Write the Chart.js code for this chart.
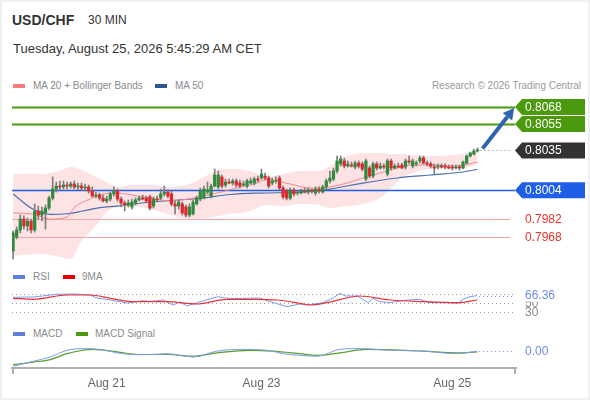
<!DOCTYPE html>
<html>
<head>
<meta charset="utf-8">
<script src="https://cdn.jsdelivr.net/npm/chart.js@4.4.1/dist/chart.umd.min.js"></script>
<style>
  body { margin: 0; background: #fff; font-family: "Liberation Sans", Arial, sans-serif; }
  #wrap { position: relative; width: 590px; height: 400px; overflow: hidden; box-shadow: inset 0 0 0 2px #eef1f4; }
  .t { position: absolute; white-space: nowrap; line-height: 1; color: #333; }
  .lg { font-size: 10px; color: #8a8a8a; }
  .sw { position: absolute; width: 12px; height: 4px; }
  canvas { position: absolute; left: 0; }
</style>
</head>
<body>
<div id="wrap">
  <div class="t" style="left:12px;top:13px;font-size:14px;font-weight:bold">USD/CHF</div>
  <div class="t" style="left:88px;top:14px;font-size:12px">30 MIN</div>
  <div class="t" style="left:13px;top:42px;font-size:13px">Tuesday, August 25, 2026 5:45:29 AM CET</div>

  <div class="sw" style="left:13px;top:84px;background:#f77b7b"></div>
  <div class="t lg" style="left:33px;top:81px">MA 20 + Bollinger Bands</div>
  <div class="sw" style="left:155px;top:84px;background:#2f5597"></div>
  <div class="t lg" style="left:175px;top:81px">MA 50</div>
  <div class="t lg" style="right:9px;top:81px;color:#9a9a9a">Research © 2026 Trading Central</div>

  <div class="sw" style="left:13px;top:275px;background:#5b7fdb"></div>
  <div class="t lg" style="left:33px;top:272px">RSI</div>
  <div class="sw" style="left:63px;top:275px;background:#e60000"></div>
  <div class="t lg" style="left:82px;top:272px">9MA</div>

  <div class="sw" style="left:13px;top:332px;background:#5b7fdb"></div>
  <div class="t lg" style="left:33px;top:329px">MACD</div>
  <div class="sw" style="left:76px;top:332px;background:#4b9a0e"></div>
  <div class="t lg" style="left:95px;top:329px">MACD Signal</div>

  <canvas id="main" width="590" height="180" style="top:91px"></canvas>
  <canvas id="rsi" width="590" height="46" style="top:280px"></canvas>
  <canvas id="macd" width="590" height="62" style="top:335px"></canvas>
</div>
<script>
// 30 min candles, index 0 = first bar on the left
const opens = [
  0.79572, 0.79680, 0.79734, 0.79818, 0.79765, 0.79803, 0.79734, 0.79880, 0.79849, 0.79865,
  0.79903, 0.79980, 0.80049, 0.80072, 0.80065, 0.80080, 0.80072, 0.80088, 0.80065, 0.80072,
  0.80057, 0.80065, 0.80034, 0.79995, 0.80003, 0.79980, 0.79957, 0.79972, 0.80011, 0.80034,
  0.79972, 0.79942, 0.79926, 0.79911, 0.79942, 0.79965, 0.79980, 0.79980, 0.79988, 0.79918,
  0.79972, 0.79980, 0.80011, 0.80026, 0.80011, 0.79934, 0.79918, 0.79934, 0.79911, 0.79849,
  0.79857, 0.79934, 0.79972, 0.79980, 0.80026, 0.79995, 0.80072, 0.80065, 0.80142, 0.80080,
  0.80103, 0.80095, 0.80111, 0.80095, 0.80080, 0.80072, 0.80095, 0.80095, 0.80126, 0.80134,
  0.80149, 0.80134, 0.80095, 0.80111, 0.80134, 0.80057, 0.80034, 0.79980, 0.80042, 0.80018,
  0.80018, 0.80034, 0.80026, 0.80042, 0.80018, 0.80049, 0.80026, 0.80065, 0.80111, 0.80126,
  0.80188, 0.80242, 0.80265, 0.80226, 0.80234, 0.80218, 0.80249, 0.80242, 0.80126, 0.80211,
  0.80149, 0.80242, 0.80211, 0.80226, 0.80165, 0.80265, 0.80211, 0.80226, 0.80234, 0.80218,
  0.80265, 0.80226, 0.80242, 0.80265, 0.80288, 0.80249, 0.80242, 0.80218, 0.80218, 0.80226,
  0.80226, 0.80218, 0.80218, 0.80211, 0.80218, 0.80211, 0.80249, 0.80303, 0.80318, 0.80342
];
const highs = [
  0.79726, 0.79757, 0.79849, 0.79842, 0.79826, 0.79818, 0.79934, 0.79918, 0.79911, 0.79926,
  0.79995, 0.80142, 0.80103, 0.80111, 0.80111, 0.80103, 0.80103, 0.80111, 0.80095, 0.80095,
  0.80088, 0.80080, 0.80065, 0.80026, 0.80018, 0.80003, 0.79995, 0.80026, 0.80065, 0.80049,
  0.79988, 0.79957, 0.79965, 0.79972, 0.79980, 0.79995, 0.80003, 0.79995, 0.80003, 0.79988,
  0.79995, 0.80049, 0.80072, 0.80042, 0.80034, 0.79957, 0.79965, 0.79949, 0.79926, 0.79934,
  0.79965, 0.79995, 0.80057, 0.80072, 0.80103, 0.80088, 0.80203, 0.80188, 0.80157, 0.80126,
  0.80126, 0.80126, 0.80126, 0.80118, 0.80111, 0.80126, 0.80134, 0.80142, 0.80149, 0.80203,
  0.80172, 0.80149, 0.80134, 0.80142, 0.80149, 0.80072, 0.80049, 0.80057, 0.80057, 0.80034,
  0.80049, 0.80057, 0.80057, 0.80049, 0.80065, 0.80065, 0.80080, 0.80126, 0.80188, 0.80211,
  0.80303, 0.80303, 0.80288, 0.80265, 0.80257, 0.80265, 0.80265, 0.80257, 0.80280, 0.80226,
  0.80257, 0.80257, 0.80249, 0.80242, 0.80280, 0.80280, 0.80242, 0.80249, 0.80249, 0.80280,
  0.80303, 0.80280, 0.80265, 0.80303, 0.80303, 0.80265, 0.80257, 0.80242, 0.80242, 0.80242,
  0.80242, 0.80234, 0.80234, 0.80234, 0.80234, 0.80265, 0.80311, 0.80334, 0.80357, 0.80365
];
const lows = [
  0.79511, 0.79665, 0.79711, 0.79741, 0.79726, 0.79711, 0.79718, 0.79818, 0.79803, 0.79741,
  0.79888, 0.79965, 0.80026, 0.80042, 0.80049, 0.80049, 0.80057, 0.80049, 0.80042, 0.80042,
  0.80034, 0.80018, 0.79988, 0.79980, 0.79965, 0.79949, 0.79942, 0.79957, 0.79995, 0.79957,
  0.79911, 0.79880, 0.79911, 0.79895, 0.79926, 0.79957, 0.79965, 0.79949, 0.79888, 0.79903,
  0.79949, 0.79965, 0.79995, 0.79980, 0.79918, 0.79857, 0.79895, 0.79849, 0.79834, 0.79834,
  0.79849, 0.79926, 0.79957, 0.79972, 0.80011, 0.79980, 0.80065, 0.80049, 0.80057, 0.80065,
  0.80088, 0.80080, 0.80065, 0.80057, 0.80072, 0.80057, 0.80088, 0.80080, 0.80103, 0.80126,
  0.80118, 0.80057, 0.80080, 0.80095, 0.80042, 0.79972, 0.79965, 0.79965, 0.79995, 0.80003,
  0.80011, 0.80018, 0.80011, 0.80018, 0.80003, 0.80018, 0.80018, 0.80049, 0.80095, 0.80111,
  0.80172, 0.80226, 0.80211, 0.80218, 0.80218, 0.80203, 0.80211, 0.80188, 0.80111, 0.80134,
  0.80134, 0.80195, 0.80203, 0.80203, 0.80149, 0.80195, 0.80203, 0.80211, 0.80203, 0.80203,
  0.80242, 0.80211, 0.80226, 0.80249, 0.80242, 0.80226, 0.80211, 0.80165, 0.80203, 0.80211,
  0.80203, 0.80203, 0.80195, 0.80203, 0.80195, 0.80203, 0.80242, 0.80295, 0.80311, 0.80334
];
const closes = [
  0.79711, 0.79734, 0.79818, 0.79765, 0.79803, 0.79734, 0.79880, 0.79849, 0.79880, 0.79903,
  0.79980, 0.80049, 0.80072, 0.80065, 0.80080, 0.80072, 0.80088, 0.80065, 0.80072, 0.80057,
  0.80065, 0.80034, 0.79995, 0.80003, 0.79980, 0.79957, 0.79972, 0.80011, 0.80034, 0.79972,
  0.79942, 0.79926, 0.79942, 0.79949, 0.79965, 0.79980, 0.79972, 0.79957, 0.79903, 0.79972,
  0.79965, 0.80011, 0.80026, 0.79995, 0.79934, 0.79918, 0.79949, 0.79865, 0.79849, 0.79911,
  0.79949, 0.79980, 0.80034, 0.80049, 0.80042, 0.80072, 0.80157, 0.80157, 0.80072, 0.80103,
  0.80095, 0.80111, 0.80080, 0.80072, 0.80088, 0.80111, 0.80111, 0.80126, 0.80118, 0.80165,
  0.80134, 0.80072, 0.80111, 0.80118, 0.80057, 0.79988, 0.79980, 0.80042, 0.80011, 0.80026,
  0.80034, 0.80026, 0.80042, 0.80034, 0.80049, 0.80034, 0.80065, 0.80111, 0.80134, 0.80188,
  0.80265, 0.80280, 0.80226, 0.80242, 0.80226, 0.80249, 0.80226, 0.80203, 0.80265, 0.80149,
  0.80242, 0.80211, 0.80226, 0.80218, 0.80265, 0.80211, 0.80226, 0.80218, 0.80211, 0.80265,
  0.80257, 0.80265, 0.80249, 0.80288, 0.80249, 0.80242, 0.80226, 0.80211, 0.80226, 0.80218,
  0.80218, 0.80211, 0.80211, 0.80218, 0.80211, 0.80257, 0.80303, 0.80326, 0.80342, 0.80349
];

// indicator lines, sampled at bar index positions
const ma20Idx = [0, 5.6, 10.3, 15, 17.2, 20.8, 25, 28.9, 34.7, 38, 43.6, 52.8, 62.2, 67.8, 70.6, 73.3, 76.9, 82.5, 88, 92.8, 97.2, 101.9, 106.7, 111.1, 115.8, 123.3, 129];
const ma20 = [0.79865, 0.79855, 0.79818, 0.79834, 0.79911, 0.79965, 0.80011, 0.80018, 0.79995, 0.79982, 0.79957, 0.79995, 0.80057, 0.80095, 0.80126, 0.80111, 0.80088, 0.80057, 0.80065, 0.80095, 0.80134, 0.80172, 0.80211, 0.80234, 0.80234, 0.80226, 0.80257];
const ma50Idx = [0, 5.6, 10.3, 15, 19.4, 24.2, 28.9, 33, 42, 51.5, 60.3, 68.6, 80.6, 88, 97.2, 106.7, 115.8, 125, 129];
const ma50 = [0.80011, 0.79893, 0.79854, 0.79859, 0.79880, 0.79906, 0.79918, 0.79934, 0.79957, 0.79976, 0.80007, 0.80018, 0.80026, 0.80049, 0.80095, 0.80134, 0.80157, 0.80180, 0.80201];
const bandIdx = [0, 8, 13, 16, 19, 23, 26, 29, 33, 38, 43, 49, 53, 57, 60, 66, 70, 75, 80, 85, 88, 93, 97, 102, 105, 108, 111, 116, 125, 129];
const bandUpper = [0.80165, 0.80165, 0.80188, 0.80218, 0.80195, 0.80142, 0.80103, 0.80065, 0.80080, 0.80080, 0.80065, 0.80088, 0.80142, 0.80195, 0.80203, 0.80188, 0.80142, 0.80165, 0.80188, 0.80188, 0.80226, 0.80303, 0.80326, 0.80326, 0.80318, 0.80318, 0.80311, 0.80303, 0.80318, 0.80342];
const bandLower = [0.79534, 0.79549, 0.79526, 0.79511, 0.79649, 0.79765, 0.79872, 0.79911, 0.79918, 0.79895, 0.79857, 0.79818, 0.79826, 0.79842, 0.79857, 0.79880, 0.79926, 0.79918, 0.79934, 0.79926, 0.79903, 0.79918, 0.79934, 0.79980, 0.80057, 0.80134, 0.80172, 0.80203, 0.80211, 0.80242];

const rsiIdx = [0, 5.6, 12.2, 17.2, 21.4, 23.3, 27, 31.7, 36.1, 38, 41.7, 44.4, 46.4, 48.3, 52, 56.9, 58.9, 61.1, 68.6, 70.6, 76.1, 79.7, 81.7, 86.1, 88.9, 90.8, 92.2, 95.6, 98.6, 100, 101.9, 104.7, 109.4, 113, 115.8, 120.6, 123.6, 125, 126.9, 128.9];
const rsi = [62.7, 63.3, 69.3, 70, 67.8, 61.1, 56.7, 50, 55.1, 53.3, 56.7, 45.6, 52.2, 43.3, 52.9, 64, 61.1, 60, 61.1, 55.1, 41.8, 47.8, 45.6, 50.7, 61.1, 71.6, 65.6, 65.6, 50.7, 60.4, 52.9, 50.7, 56.7, 58.2, 50.7, 50.7, 49.3, 58.2, 64, 66.36];
const rsiMaIdx = [0, 5.6, 15, 21.4, 27, 33.3, 42.8, 51.1, 59.4, 66.7, 73.3, 79.7, 82.5, 87.2, 96.4, 104.7, 113.9, 123.3, 128.9];
const rsiMa = [60.4, 58.2, 67.8, 67.8, 60.4, 52.9, 52.9, 47.8, 58.2, 58.2, 56.7, 49.3, 45.6, 50.7, 65.6, 56.7, 52.9, 50.7, 56.7];
const rsiGuides = [70, 50, 30];

const macdIdx = [0, 5.6, 10.3, 15, 19.4, 24.2, 28.9, 33.3, 38, 42.8, 50, 56.7, 63, 70.6, 75, 79.7, 84.4, 90.8, 96.4, 104.7, 113.9, 123.3, 128.9];
const macd = [-0.00018, -0.00012, -0.00007, 0.00001, 0.00003, 0.00002, -0.00002, -0.00004, -0.00004, -0.00003, -0.00007, 0, 0.00002, 0.00001, -0.00003, -0.00005, -0.00006, 0.00002, 0.00003, 0.00001, 0, -0.00003, 0];
const signalIdx = [0, 5.6, 10.3, 15, 22.2, 28.9, 35.3, 42.8, 50, 56.7, 65.8, 72.2, 79.7, 84.4, 90.8, 98.3, 113.9, 123.3, 128.9];
const signal = [-0.00016, -0.00013, -0.0001, -0.00003, 0.00002, -0.00001, -0.00004, -0.00004, -0.00006, -0.00002, 0.00001, 0, -0.00003, -0.00005, -0.00002, 0.00002, 0, -0.00002, -0.00001];

// key levels
const levelValues = [0.8068, 0.8055, 0.8004, 0.7982, 0.7968];
const levelKinds = ['resistance', 'resistance', 'pivot', 'support', 'support'];
const arrowFrom = [130.4, 0.8036];
const arrowTo = [139.2, 0.80672];

const tickIdx = [26, 69, 122];
const tickLabels = ['Aug 21', 'Aug 23', 'Aug 25'];

const xMin = -0.3, xMax = 139.7;
const FONT = '"Liberation Sans", Arial, sans-serif';
Chart.defaults.font.family = FONT;

const levelStyle = {
  resistance: { line: '#4b9a0e', width: 2, tag: '#4b9a0e', end: 515 },
  pivot: { line: '#1f5fe6', width: 1.5, tag: '#1f5fe6', end: 515 },
  support: { line: '#f5a5a5', width: 1.2, text: '#e8332d', end: 510 }
};

const pts = (xs, ys) => xs.map((v, i) => ({ x: v, y: ys[i] }));
const upCol = '#2e8b3e', downCol = '#e2262c';

function tag(ctx, py, tip, bg, text) {
  ctx.fillStyle = bg;
  ctx.beginPath();
  ctx.moveTo(tip, py);
  ctx.lineTo(tip + 7, py - 8);
  ctx.lineTo(585, py - 8);
  ctx.lineTo(585, py + 8);
  ctx.lineTo(tip + 7, py + 8);
  ctx.closePath();
  ctx.fill();
  ctx.fillStyle = '#fff';
  ctx.font = '12px ' + FONT;
  ctx.textBaseline = 'middle';
  ctx.fillText(text, tip + 10, py + 0.5);
}

function dotted(ctx, x0, x1, py, color) {
  ctx.save();
  ctx.strokeStyle = color;
  ctx.lineWidth = 1;
  ctx.setLineDash([1, 3]);
  ctx.beginPath();
  ctx.moveTo(x0, py);
  ctx.lineTo(x1, py);
  ctx.stroke();
  ctx.restore();
}

const levelPlugin = {
  id: 'levels',
  beforeDatasetsDraw(chart) {
    const { ctx, chartArea: a, scales: { y } } = chart;
    ctx.save();
    levelValues.forEach((v, k) => {
      const st = levelStyle[levelKinds[k]];
      const py = Math.round(y.getPixelForValue(v)) + 0.5;
      ctx.strokeStyle = st.line;
      ctx.lineWidth = st.width;
      ctx.beginPath();
      ctx.moveTo(a.left, py);
      ctx.lineTo(st.end, py);
      ctx.stroke();
    });
    ctx.restore();
  },
  afterDatasetsDraw(chart) {
    const { ctx, chartArea: a, scales: { x, y } } = chart;
    ctx.save();
    const last = closes.length - 1;
    const py = Math.round(y.getPixelForValue(closes[last])) + 0.5;
    dotted(ctx, x.getPixelForValue(last) + 3, a.right - 4, py, '#888');
    tag(ctx, py, a.right - 1, '#333', closes[last].toFixed(4));

    levelValues.forEach((v, k) => {
      const st = levelStyle[levelKinds[k]];
      const ly = y.getPixelForValue(v);
      if (st.tag) {
        tag(ctx, ly, a.right - 1, st.tag, v.toFixed(4));
      } else {
        ctx.fillStyle = st.text;
        ctx.font = '12px ' + FONT;
        ctx.textBaseline = 'middle';
        ctx.fillText(v.toFixed(4), a.right + 9, ly + 0.5);
      }
    });

    // target arrow
    const x0 = x.getPixelForValue(arrowFrom[0]), y0 = y.getPixelForValue(arrowFrom[1]);
    const x1 = x.getPixelForValue(arrowTo[0]), y1 = y.getPixelForValue(arrowTo[1]);
    const ang = Math.atan2(y1 - y0, x1 - x0);
    const head = 11, half = 6;
    const bx = x1 - head * Math.cos(ang), by = y1 - head * Math.sin(ang);
    ctx.strokeStyle = '#2f63ad';
    ctx.fillStyle = '#2f63ad';
    ctx.lineWidth = 4;
    ctx.beginPath();
    ctx.moveTo(x0, y0);
    ctx.lineTo(bx, by);
    ctx.stroke();
    ctx.beginPath();
    ctx.moveTo(x1, y1);
    ctx.lineTo(bx + half * Math.sin(ang), by - half * Math.cos(ang));
    ctx.lineTo(bx - half * Math.sin(ang), by + half * Math.cos(ang));
    ctx.closePath();
    ctx.fill();
    ctx.restore();
  }
};

const baseOpts = (pad, yMin, yMax) => ({
  responsive: false,
  animation: false,
  events: [],
  layout: { padding: pad },
  plugins: { legend: { display: false }, tooltip: { enabled: false } },
  scales: {
    x: { type: 'linear', min: xMin, max: xMax, offset: false, display: false },
    y: { min: yMin, max: yMax, display: false }
  }
});

const lineDs = (data, color, width, order) => ({
  type: 'line', data, borderColor: color, borderWidth: width, pointRadius: 0,
  cubicInterpolationMode: 'monotone', fill: false, order
});

// main price chart
const mainOpts = baseOpts({ left: 12, right: 74, top: 6, bottom: 8 }, 0.79480, 0.80757);
mainOpts.plugins.filler = { drawTime: 'beforeDatasetsDraw' };
new Chart(document.getElementById('main'), {
  type: 'bar',
  data: {
    datasets: [
      {
        type: 'bar',
        data: opens.map((o, i) => ({ x: i, y: [Math.min(o, closes[i]), Math.max(o, closes[i])] })),
        backgroundColor: c => closes[c.dataIndex] >= opens[c.dataIndex] ? upCol : downCol,
        barThickness: 2.6, grouped: false, minBarLength: 1, order: 0
      },
      {
        type: 'bar',
        data: lows.map((l, i) => ({ x: i, y: [l, highs[i]] })),
        backgroundColor: '#7d7d7d',
        barThickness: 1, grouped: false, order: 1
      },
      lineDs(pts(ma20Idx, ma20), '#f38a8a', 1, 2),
      lineDs(pts(ma50Idx, ma50), '#4a70b0', 1.2, 2),
      Object.assign(lineDs(pts(bandIdx, bandUpper), 'rgba(0,0,0,0)', 0, 3), { fill: '+1', backgroundColor: '#fde3e3' }),
      lineDs(pts(bandIdx, bandLower), 'rgba(0,0,0,0)', 0, 3)
    ]
  },
  options: mainOpts,
  plugins: [levelPlugin]
});

// RSI panel
const rsiPlugin = {
  id: 'rsiGuides',
  beforeDatasetsDraw(chart) {
    const { ctx, chartArea: a, scales: { y } } = chart;
    rsiGuides.forEach(g => dotted(ctx, a.left, a.right - 1, Math.round(y.getPixelForValue(g)) + 0.5, '#9a9a9a'));
  },
  afterDatasetsDraw(chart) {
    const { ctx, chartArea: a, scales: { x, y } } = chart;
    ctx.save();
    ctx.font = '12px ' + FONT;
    ctx.textBaseline = 'middle';
    [50, 30].forEach(g => {
      const gy = y.getPixelForValue(g);
      ctx.fillStyle = '#fff';
      ctx.fillRect(a.right + 6, gy - 5, 40, 11);
      ctx.fillStyle = '#8a8a8a';
      ctx.fillText(String(g), a.right + 9, gy + 0.5);
    });
    const lastV = rsi[rsi.length - 1];
    const ly = y.getPixelForValue(lastV);
    dotted(ctx, x.getPixelForValue(rsiIdx[rsiIdx.length - 1]) + 2, a.right - 1, Math.round(ly) + 0.5, '#6f8fe0');
    ctx.fillStyle = '#fff';
    ctx.fillRect(a.right + 6, ly - 7, 50, 13);
    ctx.fillStyle = '#6b8ee6';
    ctx.fillText(lastV.toFixed(2), a.right + 9, ly + 0.5);
    ctx.restore();
  }
};
new Chart(document.getElementById('rsi'), {
  type: 'line',
  data: {
    datasets: [
      Object.assign(lineDs(pts(rsiIdx, rsi), '#7c9be8', 1, 1), { cubicInterpolationMode: 'default', tension: 0 }),
      lineDs(pts(rsiMaIdx, rsiMa), '#e8323a', 1.2, 0)
    ]
  },
  options: baseOpts({ left: 12, right: 74, top: 5, bottom: 5 }, 10, 90),
  plugins: [rsiPlugin]
});

// MACD panel with the date axis
const macdOpts = baseOpts({ left: 12, right: 74, top: 6, bottom: 2 }, -0.0002, 0.00012);
macdOpts.scales.x = {
  type: 'linear', min: xMin, max: xMax, offset: false, display: true,
  grid: { display: false, drawTicks: false },
  border: { display: true, color: '#b0b0b0', width: 2 },
  afterBuildTicks: s => { s.ticks = tickIdx.map(v => ({ value: v })); },
  ticks: {
    autoSkip: false, maxRotation: 0, padding: 8, color: '#666', font: { size: 12 },
    callback: (v, i) => tickLabels[i]
  }
};
const macdPlugin = {
  id: 'macdExtras',
  afterDatasetsDraw(chart) {
    const { ctx, chartArea: a, scales: { x, y } } = chart;
    ctx.save();
    const lastV = macd[macd.length - 1];
    const ly = y.getPixelForValue(lastV);
    dotted(ctx, x.getPixelForValue(macdIdx[macdIdx.length - 1]) + 2, a.right - 1, Math.round(ly) + 0.5, '#6f8fe0');
    ctx.font = '12px ' + FONT;
    ctx.textBaseline = 'middle';
    ctx.fillStyle = '#6b8ee6';
    ctx.fillText(lastV.toFixed(2), a.right + 9, ly + 0.5);
    ctx.strokeStyle = '#b0b0b0';
    ctx.lineWidth = 2;
    ctx.beginPath();
    ctx.moveTo(a.left + 1, a.bottom);
    ctx.lineTo(a.left + 1, a.bottom + 6);
    ctx.moveTo(a.right - 1, a.bottom);
    ctx.lineTo(a.right - 1, a.bottom + 6);
    ctx.stroke();
    ctx.restore();
  }
};
new Chart(document.getElementById('macd'), {
  type: 'line',
  data: {
    datasets: [
      lineDs(pts(macdIdx, macd), '#7c9be8', 1, 0),
      lineDs(pts(signalIdx, signal), '#5c9e2e', 1.2, 1)
    ]
  },
  options: macdOpts,
  plugins: [macdPlugin]
});
</script>
</body>
</html>
